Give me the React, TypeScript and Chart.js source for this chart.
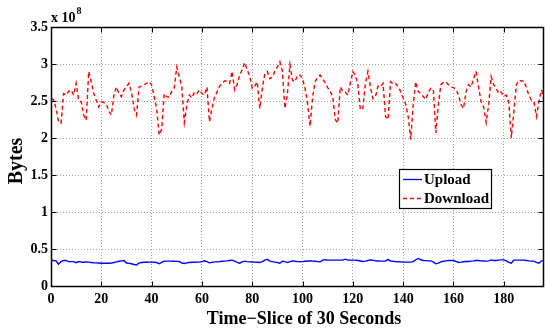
import React, { useEffect, useRef } from "react";
import { Chart, registerables } from "chart.js";
Chart.register(...registerables);

// values in units of 1e8 bytes, one per 30-second time slice (0..196)
const download = [
  2.53, 2.52, 2.40, 2.22, 2.20, 2.60, 2.58, 2.63, 2.65, 2.58,
  2.74, 2.51, 2.49, 2.31, 2.24, 2.90, 2.76, 2.60, 2.51, 2.42,
  2.49, 2.48, 2.46, 2.36, 2.31, 2.58, 2.69, 2.60, 2.56, 2.65,
  2.69, 2.74, 2.62, 2.40, 2.31, 2.69, 2.70, 2.72, 2.74, 2.76,
  2.72, 2.56, 2.40, 2.04, 2.12, 2.60, 2.56, 2.55, 2.63, 2.68,
  2.96, 2.83, 2.69, 2.21, 2.45, 2.58, 2.54, 2.62, 2.60, 2.65,
  2.60, 2.58, 2.69, 2.22, 2.40, 2.55, 2.62, 2.70, 2.74, 2.77,
  2.77, 2.74, 2.90, 2.65, 2.72, 2.85, 2.92, 3.02, 2.92, 2.84,
  2.67, 2.70, 2.76, 2.40, 2.67, 2.87, 2.90, 2.80, 2.82, 2.90,
  2.96, 3.03, 2.90, 2.40, 2.60, 2.99, 2.78, 2.76, 2.85, 2.85,
  2.80, 2.67, 2.47, 2.16, 2.55, 2.76, 2.82, 2.85, 2.80, 2.75,
  2.68, 2.63, 2.56, 2.25, 2.20, 2.69, 2.63, 2.62, 2.58, 2.74,
  2.90, 2.85, 2.72, 2.38, 2.40, 2.74, 2.90, 2.69, 2.53, 2.56,
  2.70, 2.69, 2.74, 2.29, 2.25, 2.76, 2.73, 2.74, 2.69, 2.63,
  2.54, 2.46, 2.29, 1.98, 2.45, 2.76, 2.63, 2.60, 2.56, 2.52,
  2.62, 2.67, 2.66, 2.07, 2.45, 2.72, 2.75, 2.76, 2.72, 2.69,
  2.68, 2.66, 2.58, 2.45, 2.40, 2.62, 2.72, 2.69, 2.80, 2.90,
  2.68, 2.49, 2.42, 2.21, 2.45, 2.83, 2.72, 2.67, 2.60, 2.62,
  2.56, 2.58, 2.48, 2.00, 2.35, 2.72, 2.78, 2.77, 2.77, 2.68,
  2.58, 2.51, 2.49, 2.29, 2.50, 2.65, 2.56,
];

const upload = [
  0.345, 0.345, 0.34, 0.295, 0.33, 0.345, 0.345, 0.33, 0.33, 0.33,
  0.315, 0.33, 0.325, 0.322, 0.326, 0.322, 0.318, 0.313, 0.312, 0.31,
  0.308, 0.308, 0.308, 0.308, 0.31, 0.318, 0.326, 0.335, 0.34, 0.345,
  0.31, 0.305, 0.30, 0.29, 0.285, 0.31, 0.317, 0.32, 0.32, 0.322,
  0.322, 0.32, 0.317, 0.30, 0.32, 0.336, 0.336, 0.336, 0.336, 0.334,
  0.333, 0.331, 0.31, 0.304, 0.312, 0.317, 0.32, 0.32, 0.322, 0.322,
  0.33, 0.34, 0.33, 0.313, 0.32, 0.326, 0.326, 0.33, 0.334, 0.336,
  0.34, 0.345, 0.349, 0.335, 0.32, 0.308, 0.325, 0.336, 0.33, 0.326,
  0.324, 0.322, 0.32, 0.317, 0.33, 0.35, 0.36, 0.336, 0.33, 0.322,
  0.317, 0.308, 0.336, 0.33, 0.317, 0.33, 0.34, 0.335, 0.33, 0.33,
  0.33, 0.335, 0.338, 0.337, 0.336, 0.334, 0.33, 0.326, 0.35, 0.356,
  0.35, 0.349, 0.349, 0.349, 0.349, 0.349, 0.349, 0.363, 0.349, 0.349,
  0.349, 0.349, 0.345, 0.338, 0.331, 0.336, 0.345, 0.353, 0.35, 0.34,
  0.338, 0.336, 0.336, 0.336, 0.36, 0.336, 0.334, 0.33, 0.328, 0.326,
  0.324, 0.323, 0.322, 0.322, 0.33, 0.355, 0.372, 0.355, 0.345, 0.343,
  0.34, 0.34, 0.325, 0.30, 0.31, 0.326, 0.334, 0.34, 0.345, 0.345,
  0.345, 0.333, 0.318, 0.322, 0.328, 0.331, 0.331, 0.336, 0.34, 0.345,
  0.345, 0.34, 0.338, 0.336, 0.34, 0.353, 0.345, 0.345, 0.35, 0.353,
  0.353, 0.34, 0.32, 0.308, 0.349, 0.349, 0.349, 0.349, 0.349, 0.345,
  0.34, 0.336, 0.336, 0.32, 0.308, 0.34, 0.34,
];

const xTicks = [0, 20, 40, 60, 80, 100, 120, 140, 160, 180];
const yTicks = [0, 0.5, 1, 1.5, 2, 2.5, 3, 3.5];
const seriesNames = ["Upload", "Download"];
const xTitle = "Time\u2212Slice of 30 Seconds";
const yTitle = "Bytes";
const exponentText = "x 10";
const exponent = "8";

const SERIF = '"Liberation Serif", "Times New Roman", Times, serif';

export default function App() {
  const ref = useRef<HTMLCanvasElement>(null);

  useEffect(() => {
    const canvas = ref.current!;
    const overlay = {
      id: "overlay",
      afterDraw(chart: any) {
        const ctx = chart.ctx as CanvasRenderingContext2D;
        const a = chart.chartArea;
        const xs = chart.scales.x;
        const ys = chart.scales.y;
        const L = Math.round(a.left) + 0.5;
        const R = Math.round(a.right) - 0.5;
        const T = Math.round(a.top) + 0.5;
        const B = Math.round(a.bottom) + 0.5;
        ctx.save();
        ctx.strokeStyle = "#000";
        ctx.lineWidth = 1;
        // inward ticks
        ctx.beginPath();
        const tl = 5;
        xTicks.forEach((v) => {
          const p = Math.round(xs.getPixelForValue(v)) + 0.5;
          ctx.moveTo(p, B);
          ctx.lineTo(p, B - tl);
          ctx.moveTo(p, T);
          ctx.lineTo(p, T + tl);
        });
        yTicks.forEach((v) => {
          const p = Math.round(ys.getPixelForValue(v)) + 0.5;
          ctx.moveTo(L, p);
          ctx.lineTo(L + tl, p);
          ctx.moveTo(R, p);
          ctx.lineTo(R - tl, p);
        });
        ctx.stroke();
        // box
        ctx.lineWidth = 1.5;
        ctx.strokeRect(L, T, R - L, B - T);

        // legend
        const lx = 399.5, ly = 169.5, lw = 92, lh = 39;
        ctx.fillStyle = "#fff";
        ctx.fillRect(lx, ly, lw, lh);
        ctx.lineWidth = 1.2;
        ctx.strokeStyle = "#000";
        ctx.strokeRect(lx, ly, lw, lh);
        const items = [
          { y: 179.5, color: "#0000ff", dash: [] as number[] },
          { y: 198.5, color: "#ff0000", dash: [4, 3] },
        ];
        items.forEach((it, i) => {
          ctx.beginPath();
          ctx.setLineDash(it.dash);
          ctx.strokeStyle = it.color;
          ctx.lineWidth = 1.3;
          ctx.moveTo(403, it.y);
          ctx.lineTo(422, it.y);
          ctx.stroke();
          ctx.setLineDash([]);
          ctx.fillStyle = "#000";
          ctx.font = `bold 15px ${SERIF}`;
          ctx.textAlign = "left";
          ctx.textBaseline = "middle";
          ctx.fillText(seriesNames[i], 424, it.y + 1);
        });

        // titles
        ctx.fillStyle = "#000";
        ctx.font = `bold 18px ${SERIF}`;
        ctx.textAlign = "center";
        ctx.textBaseline = "middle";
        ctx.fillText(xTitle, 304, 319);
        ctx.save();
        ctx.translate(17, 161);
        ctx.rotate(-Math.PI / 2);
        ctx.font = `bold 20px ${SERIF}`;
        ctx.fillText(yTitle, 0, 0);
        ctx.restore();

        // exponent
        ctx.textAlign = "left";
        ctx.textBaseline = "alphabetic";
        ctx.font = `bold 14px ${SERIF}`;
        ctx.fillText(exponentText, 51, 22);
        const w = ctx.measureText(exponentText).width;
        ctx.font = `bold 10px ${SERIF}`;
        ctx.fillText(exponent, 51 + w + 1, 14);
        ctx.restore();
      },
    };

    const gridCommon = {
      color: "#a0a0a0",
      lineWidth: 1,
      drawTicks: false,
    };

    const chart = new Chart(canvas, {
      type: "line",
      data: {
        datasets: [
          {
            label: seriesNames[0],
            data: upload.map((y, i) => ({ x: i, y })),
            borderColor: "#0000ff",
            borderWidth: 1.4,
            pointRadius: 0,
            fill: false,
            tension: 0,
          },
          {
            label: seriesNames[1],
            data: download.map((y, i) => ({ x: i, y })),
            borderColor: "#ff0000",
            borderDash: [4, 3],
            borderWidth: 1.4,
            pointRadius: 0,
            fill: false,
            tension: 0,
          },
        ],
      },
      options: {
        responsive: false,
        animation: false,
        devicePixelRatio: 1,
        layout: { padding: { left: 0, right: 1, top: 27, bottom: 0 } },
        plugins: { legend: { display: false }, tooltip: { enabled: false } },
        scales: {
          x: {
            type: "linear",
            min: 0,
            max: 196,
            afterFit(s: any) {
              s.height = 42;
            },
            afterBuildTicks(s: any) {
              s.ticks = xTicks.map((v) => ({ value: v }));
            },
            ticks: {
              callback: (v: any) => String(v),
              color: "#000",
              font: { family: SERIF, size: 14, weight: "bold" },
              padding: 5,
              maxRotation: 0,
              autoSkip: false,
            },
            grid: gridCommon,
            border: { display: false, dash: [1, 2] },
          },
          y: {
            type: "linear",
            min: 0,
            max: 3.5,
            afterFit(s: any) {
              s.width = 51;
            },
            afterBuildTicks(s: any) {
              s.ticks = yTicks.map((v) => ({ value: v }));
            },
            ticks: {
              callback: (v: any) => String(v),
              color: "#000",
              font: { family: SERIF, size: 14, weight: "bold" },
              padding: 3,
              autoSkip: false,
            },
            grid: gridCommon,
            border: { display: false, dash: [1, 2] },
          },
        },
      } as any,
      plugins: [overlay],
    });
    return () => chart.destroy();
  }, []);

  return (
    <div style={{ position: "fixed", left: 0, top: 0, width: 545, height: 328, background: "#fff" }}>
      <canvas ref={ref} width={545} height={328} style={{ width: 545, height: 328, display: "block" }} />
    </div>
  );
}
